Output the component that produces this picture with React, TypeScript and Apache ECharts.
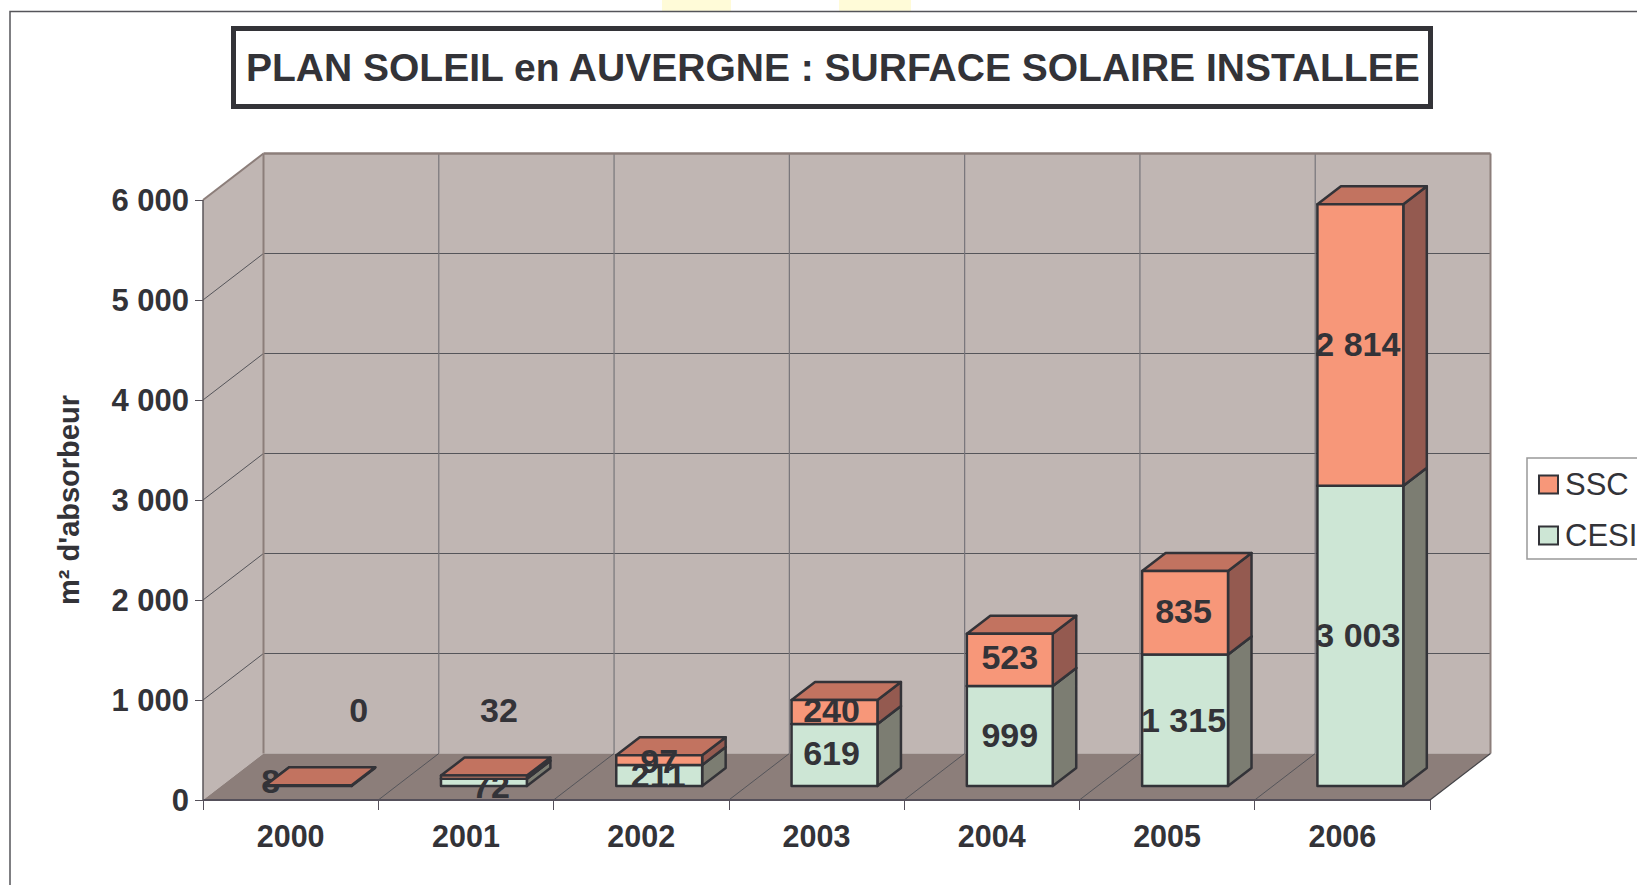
import React, { useEffect, useRef } from "react";
import * as echarts from "echarts";

const TITLE = "PLAN SOLEIL en AUVERGNE : SURFACE SOLAIRE INSTALLEE";
const Y_NAME = "m² d'absorbeur";
const years = ["2000", "2001", "2002", "2003", "2004", "2005", "2006"];
const cesi = [8, 72, 211, 619, 999, 1315, 3003];
const ssc = [0, 32, 97, 240, 523, 835, 2814];
const yTicks = [0, 1000, 2000, 3000, 4000, 5000, 6000];

// manual label displacements seen in the original, in pixels
const cesiNudge: Record<number, number[]> = {
  0: [-38, -3],
  1: [7, 5],
  2: [-1, 1],
  3: [-3, -1],
  5: [-1.5, 1],
  6: [-2.5, 1],
};
const sscNudge: Record<number, number[]> = {
  0: [50, -74],
  1: [15, -66],
  2: [0, 2],
  3: [-3, -1],
  4: [0, -1.5],
  5: [-1.5, 0],
  6: [-2.5, 0],
};

const FONT = '"Liberation Sans", Arial, sans-serif';
const INK = "#333338";
const WALL = "#C0B6B3";
const FLOOR = "#8C7E7A";
const GRID = "#55555A";

// 3D projection constants
const WALL_DX = 60.5;
const WALL_DY = -46.5;
const BAR_OX = 18;
const BAR_OY = -14;
const BAR_DX = 23.5;
const BAR_DY = -18;

const fmt = (v: number) => String(v).replace(/\B(?=(\d{3})+$)/g, " ");

function renderWalls(params: any, api: any) {
  const cs = params.coordSys;
  const x0 = cs.x;
  const x1 = cs.x + cs.width;
  const yTop = api.coord([0, 6000])[1];
  const yBase = api.coord([0, 0])[1];
  const band = cs.width / years.length;
  const children: any[] = [];
  const line = (a: number, b: number, c: number, d: number, stroke = GRID, lineWidth = 1) =>
    children.push({ type: "line", shape: { x1: a, y1: b, x2: c, y2: d }, style: { stroke, lineWidth } });
  children.push({
    type: "polygon",
    shape: { points: [[x0, yTop], [x0 + WALL_DX, yTop + WALL_DY], [x0 + WALL_DX, yBase + WALL_DY], [x0, yBase]] },
    style: { fill: WALL, stroke: "none" },
  });
  children.push({
    type: "rect",
    shape: { x: x0 + WALL_DX, y: yTop + WALL_DY, width: cs.width, height: yBase - yTop },
    style: { fill: WALL, stroke: "none" },
  });
  children.push({
    type: "polygon",
    shape: { points: [[x0, yBase], [x0 + WALL_DX, yBase + WALL_DY], [x1 + WALL_DX, yBase + WALL_DY], [x1, yBase]] },
    style: { fill: FLOOR, stroke: "none" },
  });
  yTicks.forEach((v) => {
    const y = api.coord([0, v])[1];
    if (v > 0 && v < 6000) line(x0 + WALL_DX, y + WALL_DY, x1 + WALL_DX, y + WALL_DY);
    if (v > 0 && v < 6000) line(x0, y, x0 + WALL_DX, y + WALL_DY);
  });
  for (let i = 1; i < years.length; i++) {
    const x = x0 + i * band;
    line(x + WALL_DX, yTop + WALL_DY, x + WALL_DX, yBase + WALL_DY, "#77757A", 1.2);
    line(x, yBase, x + WALL_DX, yBase + WALL_DY);
  }
  // outer edges
  line(x0, yTop, x0 + WALL_DX, yTop + WALL_DY, FLOOR, 2);
  line(x0 + WALL_DX, yTop + WALL_DY, x1 + WALL_DX, yTop + WALL_DY, FLOOR, 2.5);
  line(x1 + WALL_DX, yTop + WALL_DY, x1 + WALL_DX, yBase + WALL_DY, FLOOR, 2);
  line(x0 + WALL_DX, yTop + WALL_DY, x0 + WALL_DX, yBase + WALL_DY, FLOOR, 2);
  line(x0, yTop, x0, yBase, "#5A5558", 1.5);
  line(x0, yBase, x1, yBase, "#55505A", 2);
  line(x1, yBase, x1 + WALL_DX, yBase + WALL_DY, "#444448", 1.2);
  return { type: "group", children };
}

const barRenderer =
  (front: string, top: string, side: string, nudges: Record<number, number[]>) => (_p: any, api: any) => {
    const cat = api.value(0);
    const start = api.value(1);
    const val = api.value(2);
    const band = api.size([1, 0])[0];
    const w = band * 0.49;
    const [cx, yS] = api.coord([cat, start]);
    const yE = api.coord([cat, start + val])[1];
    const l = cx - w / 2 + BAR_OX;
    const r = l + w;
    const b = yS + BAR_OY;
    const t = yE + BAR_OY;
    const stroke = { stroke: INK, lineWidth: 2.5, lineJoin: "round" };
    const nudge = nudges[cat] || [0, 0];
    return {
      type: "group",
      children: [
        {
          type: "polygon",
          shape: { points: [[r, b], [r + BAR_DX, b + BAR_DY], [r + BAR_DX, t + BAR_DY], [r, t]] },
          style: { fill: side, ...stroke },
        },
        {
          type: "polygon",
          shape: { points: [[l, t], [l + BAR_DX, t + BAR_DY], [r + BAR_DX, t + BAR_DY], [r, t]] },
          style: { fill: top, ...stroke },
        },
        { type: "rect", shape: { x: l, y: t, width: w, height: b - t }, style: { fill: front, ...stroke } },
        {
          type: "text",
          style: {
            text: fmt(val),
            x: (l + r) / 2 + nudge[0],
            y: (t + b) / 2 + nudge[1] - 1.5,
            align: "center",
            verticalAlign: "middle",
            fontSize: 34,
            fontWeight: "bold",
            fontFamily: FONT,
            fill: INK,
          },
        },
      ],
    };
  };

export default function App() {
  const ref = useRef<HTMLDivElement>(null);
  useEffect(() => {
    document.body.style.margin = "0";
    const chart = echarts.init(ref.current!, null, { renderer: "svg" });
    chart.setOption({
      animation: false,
      backgroundColor: "#FFFFFF",
      title: {
        text: TITLE,
        left: 233,
        top: 28,
        padding: [20, 9, 20, 13],
        borderColor: INK,
        borderWidth: 5,
        backgroundColor: "#FFFFFF",
        textStyle: { fontFamily: FONT, fontWeight: "bold", fontSize: 39, color: INK },
      },
      legend: {
        orient: "vertical",
        left: 1527,
        top: 458,
        padding: [11, 30, 8, 11],
        itemGap: 20,
        itemWidth: 19,
        itemHeight: 18,
        icon: "rect",
        selectedMode: false,
        borderColor: "#999999",
        borderWidth: 1.5,
        backgroundColor: "#FFFFFF",
        data: ["SSC", "CESI"],
        textStyle: { fontFamily: FONT, fontSize: 31, color: INK, padding: [0, 0, 0, 2] },
      },
      grid: { left: 203, top: 200, width: 1227, height: 600 },
      xAxis: {
        type: "category",
        data: years,
        boundaryGap: true,
        axisLine: { show: false },
        axisTick: { show: true, length: 10, lineStyle: { color: "#55505A", width: 1 } },
        axisLabel: {
          margin: 20,
          fontFamily: FONT,
          fontWeight: "bold",
          fontSize: 30.5,
          color: INK,
          interval: 0,
        },
      },
      yAxis: {
        type: "value",
        min: 0,
        max: 6000,
        interval: 1000,
        name: Y_NAME,
        nameLocation: "middle",
        nameGap: 120,
        nameTextStyle: { fontFamily: FONT, fontWeight: "bold", fontSize: 29, color: INK },
        axisLine: { show: false },
        axisTick: { show: true, length: 8, lineStyle: { color: "#55505A", width: 1 } },
        splitLine: { show: false },
        axisLabel: {
          margin: 14,
          fontFamily: FONT,
          fontWeight: "bold",
          fontSize: 31,
          color: INK,
          formatter: (v: number) => fmt(v),
        },
      },
      series: [
        {
          type: "custom",
          name: "walls",
          z: 1,
          silent: true,
          data: [[0, 0]],
          encode: { x: 0, y: 1 },
          renderItem: renderWalls,
        },
        {
          type: "custom",
          name: "CESI",
          z: 3,
          itemStyle: { color: "#CDE6D5", borderColor: INK, borderWidth: 2 },
          data: years.map((_, i) => [i, 0, cesi[i]]),
          encode: { x: 0, y: [1, 2] },
          renderItem: barRenderer("#CDE6D5", "#A5B8AB", "#7C7D72", cesiNudge),
        },
        {
          type: "custom",
          name: "SSC",
          z: 4,
          itemStyle: { color: "#F79779", borderColor: INK, borderWidth: 2 },
          data: years.map((_, i) => [i, cesi[i], ssc[i]]),
          encode: { x: 0, y: [1, 2] },
          renderItem: barRenderer("#F79779", "#C27360", "#945A50", sscNudge),
        },
      ],
      graphic: [
        { type: "rect", z: -1, shape: { x: 662, y: 0, width: 69, height: 11 }, style: { fill: "#FFFBD8" } },
        { type: "rect", z: -1, shape: { x: 839, y: 0, width: 72, height: 11 }, style: { fill: "#FFFBD8" } },
        {
          type: "polyline",
          z: -1,
          shape: { points: [[10, 885], [10, 11.5], [1637, 11.5]] },
          style: { stroke: "#55555A", lineWidth: 1.5, fill: "none" },
        },
      ],
    });
    return () => chart.dispose();
  }, []);
  return <div ref={ref} style={{ position: "fixed", left: 0, top: 0, width: 1637, height: 885 }} />;
}
